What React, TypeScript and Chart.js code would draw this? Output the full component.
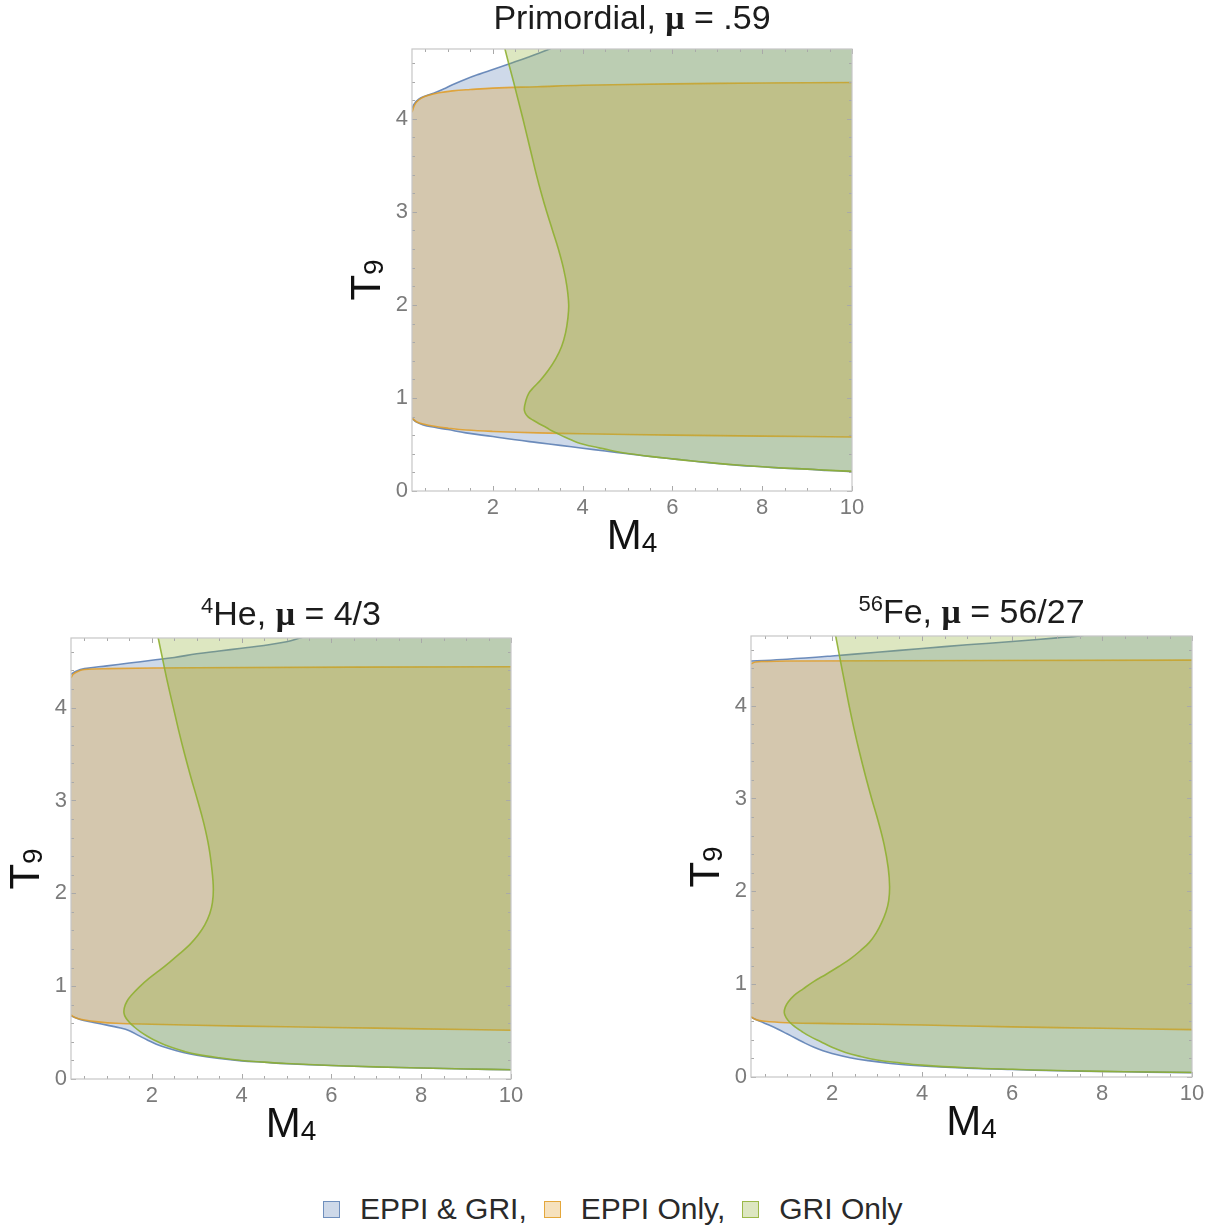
import React, { useEffect, useRef } from "react";
import { Chart, registerables } from "chart.js";

Chart.register(...registerables);

type Pt = [number, number];

// Axis extents shared by the three panels (M4 horizontally, T9 vertically)
const X_MIN = 0.2;
const X_MAX = 10;
const Y_MIN = 0;
const Y_MAX = 4.75;
const xTickValues = [2, 4, 6, 8, 10];
const yTickValues = [0, 1, 2, 3, 4];
const xMinorStep = 0.5;
const yMinorStep = 0.2;

// ---------- Primordial, mu = .59 ----------
const primBothUpper: Pt[] = [
  [0.2, 4.11], [0.25, 4.16], [0.35, 4.21], [0.5, 4.245], [0.68, 4.275], [0.9, 4.32],
  [1.1, 4.365], [1.42, 4.43], [1.7, 4.48], [2.0, 4.53], [2.39, 4.595], [2.8, 4.665],
  [3.21, 4.74], [3.4, 4.78],
];
const primBothLower: Pt[] = [
  [0.2, 0.78], [0.3, 0.74], [0.45, 0.71], [0.7, 0.685], [1.0, 0.66], [1.4, 0.625],
  [2.0, 0.585], [2.5, 0.55], [3.0, 0.52], [3.5, 0.49], [4.0, 0.46], [4.5, 0.43],
  [5.0, 0.4], [5.5, 0.37], [6.0, 0.345], [6.5, 0.32], [7.0, 0.295], [7.5, 0.275],
  [8.0, 0.26], [8.5, 0.245], [9.0, 0.235], [9.5, 0.22], [10, 0.21],
];
const primEppiUpper: Pt[] = [
  [0.2, 4.07], [0.25, 4.14], [0.3, 4.18], [0.4, 4.22], [0.55, 4.25], [0.8, 4.28],
  [1.1, 4.3], [1.5, 4.315], [2.0, 4.33], [3.0, 4.345], [4.0, 4.36], [6.0, 4.375],
  [8.0, 4.385], [10, 4.39],
];
const primEppiLower: Pt[] = [
  [0.2, 0.78], [0.3, 0.745], [0.45, 0.72], [0.7, 0.695], [1.0, 0.675], [1.4, 0.655],
  [2.0, 0.64], [3.0, 0.625], [4.0, 0.615], [6.0, 0.6], [8.0, 0.59], [10, 0.58],
];
const primGriEdge: Pt[] = [
  [2.255, 4.78], [2.35, 4.6], [2.46, 4.4], [2.565, 4.2], [2.67, 4.0], [2.77, 3.8],
  [2.87, 3.6], [2.97, 3.4], [3.08, 3.2], [3.2, 3.0], [3.33, 2.8], [3.46, 2.6],
  [3.57, 2.4], [3.65, 2.2], [3.69, 2.0], [3.67, 1.85], [3.62, 1.7], [3.53, 1.55],
  [3.4, 1.42], [3.24, 1.3], [3.06, 1.19], [2.92, 1.12], [2.8, 1.05], [2.73, 0.96],
  [2.7, 0.88], [2.72, 0.84], [2.78, 0.8], [2.9, 0.76], [3.04, 0.72], [3.2, 0.68],
  [3.3, 0.65], [3.43, 0.62], [3.6, 0.58], [3.74, 0.55], [3.95, 0.51], [4.2, 0.48],
  [4.5, 0.45], [4.8, 0.42], [5.05, 0.4], [5.5, 0.372], [6.0, 0.345], [6.5, 0.32],
  [7.0, 0.297], [7.5, 0.277], [8.0, 0.26], [8.5, 0.246], [9.0, 0.235], [9.5, 0.222],
  [10, 0.211],
];

// ---------- 4He, mu = 4/3 ----------
const heBothUpper: Pt[] = [
  [0.2, 4.36], [0.3, 4.39], [0.5, 4.42], [1.0, 4.45], [1.5, 4.48], [2.0, 4.51],
  [2.5, 4.54], [3.0, 4.58], [3.5, 4.61], [4.0, 4.64], [4.5, 4.67], [5.0, 4.71],
  [5.3, 4.75], [5.5, 4.78],
];
const heBothLower: Pt[] = [
  [0.2, 0.68], [0.4, 0.64], [0.7, 0.61], [1.0, 0.58], [1.3, 0.55], [1.5, 0.52],
  [1.7, 0.47], [1.9, 0.42], [2.1, 0.375], [2.4, 0.325], [2.7, 0.285], [3.0, 0.255],
  [3.5, 0.22], [4.0, 0.195], [4.5, 0.18], [5.0, 0.165], [6.0, 0.145], [7.0, 0.13],
  [8.0, 0.118], [9.0, 0.108], [10, 0.1],
];
const heEppiUpper: Pt[] = [
  [0.2, 4.32], [0.25, 4.36], [0.35, 4.39], [0.5, 4.41], [1.0, 4.42], [3.0, 4.43],
  [10, 4.44],
];
const heEppiLower: Pt[] = [
  [0.2, 0.69], [0.3, 0.66], [0.5, 0.635], [0.8, 0.615], [1.2, 0.6], [2.0, 0.59],
  [4.0, 0.57], [6.0, 0.555], [8.0, 0.54], [10, 0.525],
];
const heGriEdge: Pt[] = [
  [2.13, 4.78], [2.25, 4.5], [2.36, 4.25], [2.48, 4.0], [2.6, 3.75], [2.73, 3.5],
  [2.87, 3.25], [3.02, 3.0], [3.16, 2.75], [3.27, 2.5], [3.34, 2.25], [3.37, 2.05],
  [3.35, 1.9], [3.29, 1.78], [3.18, 1.66], [3.03, 1.55], [2.85, 1.45], [2.62, 1.35],
  [2.4, 1.26], [2.17, 1.17], [1.93, 1.08], [1.72, 0.99], [1.56, 0.91], [1.45, 0.84],
  [1.39, 0.77], [1.38, 0.71], [1.42, 0.66], [1.5, 0.61], [1.61, 0.56], [1.74, 0.51],
  [1.9, 0.46], [2.05, 0.42], [2.28, 0.37], [2.5, 0.33], [2.7, 0.3], [3.0, 0.265],
  [3.5, 0.228], [4.0, 0.2], [4.5, 0.182], [5.0, 0.167], [6.0, 0.146], [7.0, 0.131],
  [8.0, 0.118], [9.0, 0.108], [10, 0.1],
];

// ---------- 56Fe, mu = 56/27 ----------
const feBothUpper: Pt[] = [
  [0.2, 4.48], [1.0, 4.5], [2.0, 4.535], [3.0, 4.575], [4.0, 4.615], [5.0, 4.655],
  [6.0, 4.69], [7.0, 4.73], [7.5, 4.75], [7.8, 4.78],
];
const feBothLower: Pt[] = [
  [0.2, 0.645], [0.4, 0.6], [0.6, 0.56], [0.8, 0.515], [1.0, 0.465], [1.2, 0.415],
  [1.4, 0.365], [1.6, 0.32], [1.8, 0.283], [2.0, 0.253], [2.4, 0.208], [2.8, 0.176],
  [3.3, 0.146], [4.0, 0.118], [5.0, 0.095], [6.0, 0.08], [7.0, 0.068], [8.0, 0.06],
  [9.0, 0.053], [10, 0.047],
];
const feEppiUpper: Pt[] = [
  [0.2, 4.45], [0.3, 4.47], [0.5, 4.475], [1.0, 4.48], [10, 4.49],
];
const feEppiLower: Pt[] = [
  [0.2, 0.65], [0.3, 0.62], [0.5, 0.6], [1.0, 0.585], [2.0, 0.575], [4.0, 0.56],
  [6.0, 0.54], [8.0, 0.525], [10, 0.51],
];
const feGriEdge: Pt[] = [
  [2.07, 4.78], [2.18, 4.5], [2.28, 4.25], [2.38, 4.0], [2.49, 3.75], [2.61, 3.5],
  [2.74, 3.25], [2.88, 3.0], [3.03, 2.75], [3.16, 2.5], [3.25, 2.25], [3.28, 2.05],
  [3.26, 1.9], [3.2, 1.78], [3.1, 1.66], [2.98, 1.55], [2.83, 1.45], [2.63, 1.36],
  [2.4, 1.27], [2.15, 1.19], [1.88, 1.11], [1.6, 1.03], [1.36, 0.95], [1.16, 0.88],
  [1.03, 0.81], [0.96, 0.75], [0.94, 0.69], [0.98, 0.64], [1.06, 0.59], [1.18, 0.54],
  [1.33, 0.49], [1.5, 0.44], [1.75, 0.38], [2.0, 0.32], [2.3, 0.265], [2.6, 0.225],
  [3.0, 0.183], [3.5, 0.152], [4.0, 0.128], [5.0, 0.1], [6.0, 0.083], [7.0, 0.07],
  [8.0, 0.061], [9.0, 0.054], [10, 0.048],
];

// Region colours (fills are translucent so overlaps mix)
const BLUE = "94,129,181";
const ORANGE = "225,156,36";
const GREEN = "143,176,50";
const FILL_ALPHA = 0.3;
const TENSION = 0.4;

const legendItems = [
  { label: "EPPI & GRI,", rgb: BLUE },
  { label: "EPPI Only,", rgb: ORANGE },
  { label: "GRI Only", rgb: GREEN },
];

const SANS = "'Liberation Sans', Arial, Helvetica, sans-serif";

// Closed outline of the area between an upper and a lower boundary,
// carried past the right/top plot edges so the frame does the clipping.
function bandPolygon(upper: Pt[], lower: Pt[]): Pt[] {
  const right = X_MAX + 0.5;
  const top = Y_MAX + 0.3;
  const uN = upper[upper.length - 1];
  const lN = lower[lower.length - 1];
  const out: Pt[] = [...upper];
  if (uN[1] >= Y_MAX) {
    out.push([right, top]);
  } else {
    out.push([right, uN[1]]);
  }
  out.push([right, lN[1]]);
  for (let i = lower.length - 1; i >= 0; i--) out.push(lower[i]);
  return out;
}

// Everything to the right of / above a boundary that enters at the top.
function rightOfEdge(edge: Pt[]): Pt[] {
  const first = edge[0];
  const last = edge[edge.length - 1];
  const right = X_MAX + 0.5;
  const top = Y_MAX + 0.3;
  return [...edge, [right, last[1]], [right, top], [first[0], top]];
}

const toXY = (pts: Pt[]) => pts.map(([x, y]) => ({ x, y }));

function fillSet(pts: Pt[], rgb: string, order: number) {
  return {
    data: toXY(pts),
    fill: "shape",
    backgroundColor: `rgba(${rgb},${FILL_ALPHA})`,
    borderColor: "rgba(0,0,0,0)",
    borderWidth: 0,
    pointRadius: 0,
    tension: TENSION,
    capBezierPoints: false,
    order,
  };
}

function edgeSet(pts: Pt[], rgb: string, alpha: number, order: number) {
  return {
    data: toXY(pts),
    fill: false,
    borderColor: `rgba(${rgb},${alpha})`,
    borderWidth: 1.6,
    pointRadius: 0,
    tension: TENSION,
    capBezierPoints: false,
    order,
  };
}

// Mathematica-style frame: thin grey box with inward ticks on all four sides
const frameTicks = {
  id: "frameTicks",
  afterDatasetsDraw(chart: any) {
    const { ctx, chartArea: a } = chart;
    const xs = chart.scales.x;
    const ys = chart.scales.y;
    ctx.save();
    ctx.strokeStyle = "#a9a9a9";
    ctx.lineWidth = 1;
    ctx.beginPath();
    const isMajor = (v: number, list: number[]) => list.some((t) => Math.abs(t - v) < 1e-6);
    for (let k = 1; k * xMinorStep <= X_MAX + 1e-9; k++) {
      const v = k * xMinorStep;
      if (v < X_MIN) continue;
      const len = isMajor(v, xTickValues) ? 5 : 3;
      const px = Math.round(xs.getPixelForValue(v)) + 0.5;
      ctx.moveTo(px, a.bottom);
      ctx.lineTo(px, a.bottom - len);
      ctx.moveTo(px, a.top);
      ctx.lineTo(px, a.top + len);
    }
    for (let k = 0; k * yMinorStep <= Y_MAX + 1e-9; k++) {
      const v = k * yMinorStep;
      const len = isMajor(v, yTickValues) ? 5 : 3;
      const py = Math.round(ys.getPixelForValue(v)) + 0.5;
      ctx.moveTo(a.left, py);
      ctx.lineTo(a.left + len, py);
      ctx.moveTo(a.right, py);
      ctx.lineTo(a.right - len, py);
    }
    ctx.stroke();
    ctx.strokeStyle = "#c6c6c6";
    ctx.lineWidth = 1.2;
    ctx.strokeRect(a.left, a.top, a.right - a.left, a.bottom - a.top);
    ctx.restore();
  },
};

// canvas margins around each plot frame
const PAD_L = 70;
const PAD_T = 20;
const PAD_R = 25;
const PAD_B = 45;

type Frame = { left: number; top: number; width: number; height: number };

type PanelSpec = {
  frame: Frame;
  title: React.ReactNode;
  both: [Pt[], Pt[]];
  eppi: [Pt[], Pt[]];
  gri: Pt[];
};

const mu = (
  <span style={{ fontFamily: "'Liberation Serif', 'Times New Roman', serif", fontWeight: 700 }}>μ</span>
);

const supStyle: React.CSSProperties = { fontSize: 22, verticalAlign: 12 };

const panels: PanelSpec[] = [
  {
    frame: { left: 412, top: 49, width: 440, height: 442 },
    title: <>Primordial, {mu} = .59</>,
    both: [primBothUpper, primBothLower],
    eppi: [primEppiUpper, primEppiLower],
    gri: primGriEdge,
  },
  {
    frame: { left: 71, top: 638, width: 440, height: 441 },
    title: (
      <>
        <span style={supStyle}>4</span>He, {mu} = 4/3
      </>
    ),
    both: [heBothUpper, heBothLower],
    eppi: [heEppiUpper, heEppiLower],
    gri: heGriEdge,
  },
  {
    frame: { left: 751, top: 636, width: 441, height: 441 },
    title: (
      <>
        <span style={supStyle}>56</span>Fe, {mu} = 56/27
      </>
    ),
    both: [feBothUpper, feBothLower],
    eppi: [feEppiUpper, feEppiLower],
    gri: feGriEdge,
  },
];

function Panel({ spec }: { spec: PanelSpec }) {
  const ref = useRef<HTMLCanvasElement>(null);
  const { frame } = spec;
  const W = frame.width + PAD_L + PAD_R;
  const H = frame.height + PAD_T + PAD_B;

  useEffect(() => {
    if (!ref.current) return;
    const datasets: any[] = [
      fillSet(bandPolygon(spec.both[0], spec.both[1]), BLUE, 9),
      edgeSet(spec.both[0], BLUE, 0.9, 8),
      edgeSet(spec.both[1], BLUE, 0.9, 8),
      fillSet(bandPolygon(spec.eppi[0], spec.eppi[1]), ORANGE, 6),
      edgeSet(spec.eppi[0], ORANGE, 0.85, 5),
      edgeSet(spec.eppi[1], ORANGE, 0.85, 5),
      fillSet(rightOfEdge(spec.gri), GREEN, 3),
      edgeSet(spec.gri, GREEN, 0.9, 2),
    ];
    const chart = new Chart(ref.current, {
      type: "line",
      data: { datasets },
      options: {
        animation: false,
        responsive: false,
        devicePixelRatio: 1,
        events: [],
        layout: { padding: { left: 0, top: PAD_T, right: PAD_R, bottom: 0 } },
        plugins: { legend: { display: false }, tooltip: { enabled: false }, title: { display: false } },
        scales: {
          x: {
            type: "linear",
            min: X_MIN,
            max: X_MAX,
            grid: { display: false, drawTicks: false },
            border: { display: false },
            afterBuildTicks: (axis: any) => {
              axis.ticks = xTickValues.map((value) => ({ value }));
            },
            afterFit: (axis: any) => {
              axis.height = PAD_B;
            },
            ticks: {
              color: "#7b7b7b",
              padding: 4,
              maxRotation: 0,
              autoSkip: false,
              font: { family: SANS, size: 22 },
              callback: (v: any) => String(v),
            },
          },
          y: {
            type: "linear",
            min: Y_MIN,
            max: Y_MAX,
            grid: { display: false, drawTicks: false },
            border: { display: false },
            afterBuildTicks: (axis: any) => {
              axis.ticks = yTickValues.map((value) => ({ value }));
            },
            afterFit: (axis: any) => {
              axis.width = PAD_L;
            },
            ticks: {
              color: "#7b7b7b",
              padding: 4,
              autoSkip: false,
              font: { family: SANS, size: 22 },
              callback: (v: any) => String(v),
            },
          },
        },
      } as any,
      plugins: [frameTicks],
    });
    return () => chart.destroy();
  }, [spec]);

  const cx = frame.left + frame.width / 2;
  const cy = frame.top + frame.height / 2;

  return (
    <>
      <canvas
        ref={ref}
        width={W}
        height={H}
        style={{ position: "absolute", left: frame.left - PAD_L, top: frame.top - PAD_T, width: W, height: H }}
      />
      <div
        style={{
          position: "absolute",
          left: frame.left - 80,
          width: frame.width + 160,
          top: frame.top - 49,
          fontSize: 34,
          lineHeight: "34px",
          textAlign: "center",
          color: "#1c1c1c",
          whiteSpace: "nowrap",
        }}
      >
        {spec.title}
      </div>
      <div
        style={{
          position: "absolute",
          left: cx - 80,
          width: 160,
          top: frame.top + frame.height + 23,
          fontSize: 42,
          lineHeight: "42px",
          textAlign: "center",
          color: "#111",
          whiteSpace: "nowrap",
        }}
      >
        M<span style={{ fontSize: 28, verticalAlign: -3 }}>4</span>
      </div>
      <div
        style={{
          position: "absolute",
          left: frame.left - 46 - 80,
          width: 160,
          top: cy + 10 - 21,
          height: 42,
          fontSize: 42,
          lineHeight: "42px",
          textAlign: "center",
          color: "#111",
          whiteSpace: "nowrap",
          transform: "rotate(-90deg)",
          transformOrigin: "50% 50%",
        }}
      >
        T<span style={{ fontSize: 28, verticalAlign: -3 }}>9</span>
      </div>
    </>
  );
}

export default function App() {
  return (
    <div
      style={{
        position: "absolute",
        left: 0,
        top: 0,
        width: 1221,
        height: 1228,
        overflow: "hidden",
        background: "#ffffff",
        fontFamily: SANS,
      }}
    >
      {panels.map((p, i) => (
        <Panel key={i} spec={p} />
      ))}
      <div
        style={{
          position: "absolute",
          left: 323,
          top: 1194,
          height: 30,
          display: "flex",
          alignItems: "center",
          fontSize: 30,
          lineHeight: "30px",
          color: "#2a2a2a",
          whiteSpace: "nowrap",
        }}
      >
        {legendItems.map((it, i) => (
          <React.Fragment key={it.label}>
            <span
              style={{
                display: "inline-block",
                boxSizing: "border-box",
                width: 17,
                height: 17,
                border: `1.5px solid rgba(${it.rgb},0.85)`,
                background: `rgba(${it.rgb},${FILL_ALPHA})`,
                marginRight: 20,
                marginLeft: i === 0 ? 0 : 17,
              }}
            />
            <span>{it.label}</span>
          </React.Fragment>
        ))}
      </div>
    </div>
  );
}
